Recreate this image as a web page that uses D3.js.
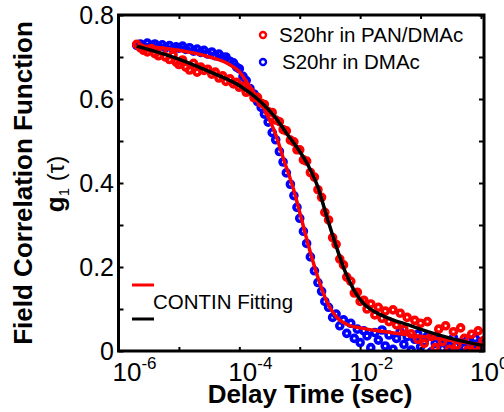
<!DOCTYPE html>
<html>
<head>
<meta charset="utf-8">
<script src="https://cdn.jsdelivr.net/npm/d3@7"></script>
<style>
body { margin: 0; background: #fff; }
svg { display: block; font-family: "Liberation Sans", Arial, sans-serif; }
</style>
</head>
<body>
<svg id="chart" width="504" height="412"></svg>
<script>
// delay times (sec), shared by both measured series
const tau = [
  2.0e-6, 2.3e-6, 2.6e-6, 3.0e-6, 3.5e-6, 4.0e-6, 4.6e-6, 5.3e-6, 6.0e-6, 7.0e-6, 8.0e-6, 9.0e-6,
  1.0e-5, 1.15e-5, 1.3e-5, 1.5e-5, 1.75e-5, 2.0e-5, 2.3e-5, 2.6e-5, 3.0e-5, 3.5e-5, 4.0e-5, 4.6e-5, 5.3e-5, 6.0e-5, 7.0e-5, 8.0e-5, 9.0e-5,
  1.0e-4, 1.15e-4, 1.3e-4, 1.5e-4, 1.75e-4, 2.0e-4, 2.3e-4, 2.6e-4, 3.0e-4, 3.5e-4, 4.0e-4, 4.6e-4, 5.3e-4, 6.0e-4, 7.0e-4, 8.0e-4, 9.0e-4,
  1.0e-3, 1.15e-3, 1.3e-3, 1.5e-3, 1.75e-3, 2.0e-3, 2.3e-3, 2.6e-3, 3.0e-3, 3.5e-3, 4.0e-3, 4.6e-3, 5.3e-3, 6.0e-3, 7.0e-3, 8.0e-3, 9.0e-3,
  1.0e-2, 1.15e-2, 1.3e-2, 1.5e-2, 1.75e-2, 2.0e-2, 2.3e-2, 2.6e-2, 3.0e-2, 3.5e-2, 4.0e-2, 4.6e-2, 5.3e-2, 6.0e-2, 7.0e-2, 8.0e-2, 9.0e-2,
  0.1, 0.115, 0.13, 0.15, 0.175, 0.2, 0.23, 0.26, 0.3, 0.35, 0.4, 0.46, 0.53, 0.6, 0.7, 0.8, 0.9,
  1.0, 1.08
];

// S20hr in PAN/DMAc (red)
const gPan = [
  0.730, 0.722, 0.716, 0.712, 0.720, 0.708, 0.703, 0.714, 0.700, 0.694, 0.705, 0.688,
  0.682, 0.693, 0.676, 0.669, 0.685, 0.664, 0.676, 0.668, 0.671, 0.659, 0.664, 0.650, 0.655, 0.642, 0.648, 0.636, 0.640,
  0.628, 0.630, 0.616, 0.618, 0.603, 0.604, 0.590, 0.587, 0.570, 0.568, 0.550, 0.546, 0.527, 0.524, 0.502, 0.498, 0.479,
  0.479, 0.455, 0.452, 0.425, 0.414, 0.384, 0.366, 0.330, 0.312, 0.270, 0.254, 0.219, 0.205, 0.176, 0.166, 0.138, 0.140,
  0.118, 0.121, 0.100, 0.112, 0.086, 0.104, 0.078, 0.095, 0.070, 0.098, 0.062, 0.090, 0.052, 0.080, 0.041, 0.073, 0.028,
  0.066, 0.018, 0.070, 0.034, 0.008, 0.052, 0.022, 0.060, 0.004, 0.046, 0.014, 0.055, 0.030, 0.002, 0.040, 0.010, 0.048,
  0.006, 0.024
];

// S20hr in DMAc (blue)
const gDmac = [
  0.728, 0.731, 0.725, 0.733, 0.727, 0.731, 0.724, 0.729, 0.722, 0.727, 0.719, 0.724,
  0.721, 0.726, 0.718, 0.722, 0.714, 0.719, 0.711, 0.716, 0.707, 0.712, 0.703, 0.707, 0.699, 0.700, 0.690, 0.686, 0.676,
  0.672, 0.654, 0.644, 0.625, 0.612, 0.594, 0.580, 0.564, 0.545, 0.520, 0.503, 0.475, 0.450, 0.424, 0.397, 0.370, 0.342,
  0.316, 0.285, 0.256, 0.224, 0.191, 0.163, 0.142, 0.118, 0.104, 0.080, 0.088, 0.060, 0.074, 0.042, 0.066, 0.030, 0.052,
  0.020, 0.048, 0.036, 0.008, 0.044, 0.026, 0.050, 0.012, 0.038, 0.004, 0.030, 0.046, 0.016, 0.034, 0.002, 0.028, 0.040,
  0.010, 0.022, 0.036, -0.002, 0.018, 0.030, 0.006, 0.024, 0.012, 0.032, -0.004, 0.020, 0.008, 0.026, 0.004, 0.030, 0.012,
  0.022, 0.018
];

// CONTIN fits
const fitPanTau = [2.0e-6, 1.0e-5, 3.2e-5, 1.0e-4, 2.0e-4, 4.0e-4, 6.3e-4, 1.0e-3, 1.4e-3, 2.0e-3, 2.8e-3, 4.0e-3, 5.6e-3, 7.9e-3, 1.1e-2, 1.8e-2, 3.2e-2, 6.3e-2, 0.14, 0.32, 0.63, 1.07];
const fitPanG   = [0.726, 0.695, 0.665, 0.632, 0.600, 0.555, 0.515, 0.475, 0.440, 0.390, 0.320, 0.250, 0.190, 0.145, 0.115, 0.092, 0.076, 0.062, 0.045, 0.030, 0.020, 0.013];
const fitDmacTau = [2.0e-6, 1.0e-5, 3.2e-5, 6.3e-5, 1.0e-4, 1.4e-4, 2.5e-4, 4.0e-4, 5.6e-4, 7.9e-4, 1.0e-3, 1.4e-3, 2.0e-3, 2.8e-3, 4.0e-3, 6.3e-3, 1.0e-2, 3.2e-2, 0.1, 0.32, 1.07];
const fitDmacG   = [0.727, 0.716, 0.700, 0.685, 0.665, 0.635, 0.580, 0.515, 0.450, 0.385, 0.330, 0.250, 0.175, 0.118, 0.082, 0.062, 0.055, 0.044, 0.035, 0.025, 0.014];

const xTicks = [1e-6, 1e-5, 1e-4, 1e-3, 1e-2, 1e-1, 1];
const xLabelTicks = [1e-6, 1e-4, 1e-2, 1];
const yTicks = [0, 0.1, 0.2, 0.3, 0.4, 0.5, 0.6, 0.7, 0.8];
const yLabelTicks = [0, 0.2, 0.4, 0.6, 0.8];
const seriesNames = ['S20hr in PAN/DMAc', 'S20hr in DMAc'];
const fitName = 'CONTIN Fitting';

const box = { left: 118.5, right: 484, top: 15, bottom: 351 };
const svg = d3.select('#chart');

const x = d3.scaleLog().domain([1e-6, Math.pow(10, 0.05)]).range([box.left, box.right]);
const y = d3.scaleLinear().domain([0, 0.8]).range([box.bottom, box.top]);

svg.append('defs').append('clipPath').attr('id', 'plot')
  .append('rect').attr('x', box.left).attr('y', box.top)
  .attr('width', box.right - box.left).attr('height', box.bottom - box.top);

const plot = svg.append('g').attr('clip-path', 'url(#plot)');

function dots(values, color) {
  plot.append('g').selectAll('circle')
    .data(tau.map((t, i) => [t, values[i]]))
    .enter().append('circle')
    .attr('cx', d => x(d[0]))
    .attr('cy', d => y(d[1]))
    .attr('r', 3)
    .attr('fill', 'none')
    .attr('stroke', color)
    .attr('stroke-width', 3.6);
}
dots(gDmac, '#0000ff');
dots(gPan, '#ff0000');

const line = d3.line().x(d => x(d[0])).y(d => y(d[1])).curve(d3.curveMonotoneX);
plot.append('path')
  .attr('d', line(fitDmacTau.map((t, i) => [t, fitDmacG[i]])))
  .attr('fill', 'none').attr('stroke', '#ff0000').attr('stroke-width', 3.5);
plot.append('path')
  .attr('d', line(fitPanTau.map((t, i) => [t, fitPanG[i]])))
  .attr('fill', 'none').attr('stroke', '#000').attr('stroke-width', 3.5);

// axes (box, inward ticks)
const axisStyle = g => {
  g.select('.domain').remove();
  g.selectAll('.tick line').attr('stroke', '#000').attr('stroke-width', 2);
};
svg.append('g').attr('transform', `translate(0,${box.bottom})`)
  .call(d3.axisBottom(x).tickValues(xTicks).tickSize(-4).tickFormat(''))
  .call(axisStyle);
svg.append('g').attr('transform', `translate(0,${box.top})`)
  .call(d3.axisTop(x).tickValues(xTicks).tickSize(-4).tickFormat(''))
  .call(axisStyle);
svg.append('g').attr('transform', `translate(${box.left},0)`)
  .call(d3.axisLeft(y).tickValues(yTicks).tickSize(-5).tickFormat(''))
  .call(axisStyle);
svg.append('g').attr('transform', `translate(${box.right},0)`)
  .call(d3.axisRight(y).tickValues(yTicks).tickSize(-5).tickFormat(''))
  .call(axisStyle);

svg.append('rect')
  .attr('x', box.left).attr('y', box.top)
  .attr('width', box.right - box.left).attr('height', box.bottom - box.top)
  .attr('fill', 'none').attr('stroke', '#000').attr('stroke-width', 3);

// tick labels
svg.append('g').selectAll('text')
  .data(yLabelTicks).enter().append('text')
  .attr('x', 114).attr('y', d => y(d)).attr('dy', '0.36em')
  .attr('text-anchor', 'end').attr('font-size', 25)
  .text(d => String(d));

const xl = svg.append('g').selectAll('text')
  .data(xLabelTicks).enter().append('text')
  .attr('x', (d, i) => i === 0 ? x(d) - 6 : x(d) - 11).attr('y', 381)
  .attr('font-size', 26);
xl.append('tspan').text('10');
xl.append('tspan').attr('dy', -12).attr('font-size', 17)
  .text(d => String(Math.round(Math.log10(d))));

// axis titles
svg.append('text')
  .attr('transform', 'translate(32,183) rotate(-90)')
  .attr('text-anchor', 'middle').attr('font-size', 26).attr('font-weight', 'bold')
  .text('Field Correlation Function');
const g1 = svg.append('text')
  .attr('transform', 'translate(64,184) rotate(-90)')
  .attr('text-anchor', 'middle').attr('font-size', 26);
g1.append('tspan').attr('font-weight', 'bold').text('g');
g1.append('tspan').attr('font-size', 15).attr('dy', 5).text('1');
g1.append('tspan').attr('dy', -5).attr('font-size', 24).text(' (τ)');

svg.append('text')
  .attr('x', 310).attr('y', 403)
  .attr('text-anchor', 'middle').attr('font-size', 26).attr('font-weight', 'bold')
  .text('Delay Time (sec)');

// legends
const legColors = ['#ff0000', '#0000ff'];
const leg = svg.append('g').selectAll('g')
  .data(seriesNames).enter().append('g')
  .attr('transform', (d, i) => `translate(263,${35 + i * 27})`);
leg.append('circle').attr('r', 3).attr('fill', 'none')
  .attr('stroke', (d, i) => legColors[i]).attr('stroke-width', 2.4);
leg.append('text').attr('x', (d, i) => i === 0 ? 16 : 19).attr('y', 7)
  .attr('font-size', 20.5).text(d => d);

const fitLeg = svg.append('g');
fitLeg.append('line').attr('x1', 132).attr('x2', 154).attr('y1', 285).attr('y2', 285)
  .attr('stroke', '#ff0000').attr('stroke-width', 3);
fitLeg.append('line').attr('x1', 132).attr('x2', 154).attr('y1', 319).attr('y2', 319)
  .attr('stroke', '#000').attr('stroke-width', 3);
fitLeg.append('text').attr('x', 153).attr('y', 309).attr('font-size', 20.5).text(fitName);
</script>
</body>
</html>
